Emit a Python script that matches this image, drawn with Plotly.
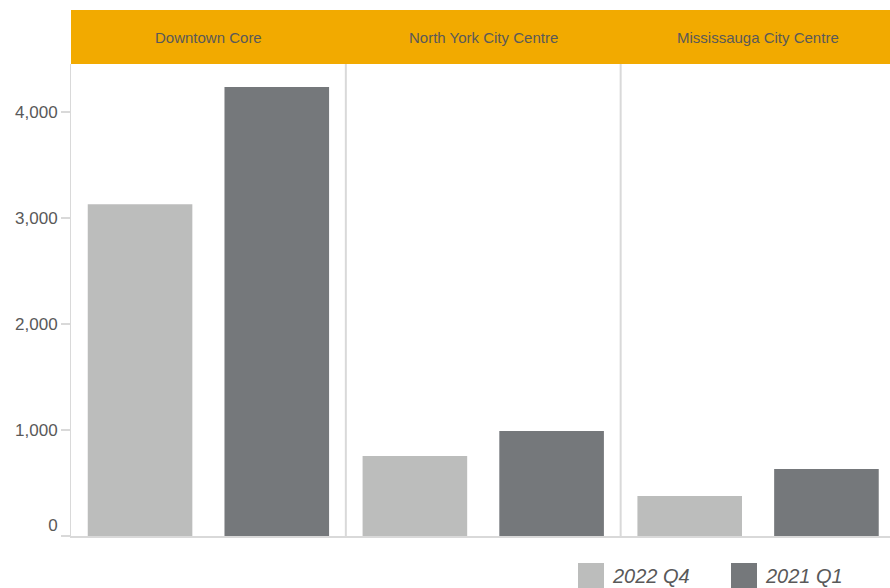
import plotly.graph_objects as go

categories = ["Downtown Core", "North York City Centre", "Mississauga City Centre"]
series_names = ["2022 Q4", "2021 Q1"]
values_2022_q4 = [3130, 755, 377]
values_2021_q1 = [4236, 991, 632]
tick_values = [0, 1000, 2000, 3000, 4000]
tick_labels = ["0<br> ", "1,000", "2,000", "3,000", "4,000"]

colors = ["#BCBDBC", "#75787B"]
text_color = "#595959"
line_color = "#D9D9D9"
FONT = "Liberation Sans, Arial, sans-serif"

fig = go.Figure()
for name, vals, col in zip(series_names, [values_2022_q4, values_2021_q1], colors):
    fig.add_trace(go.Bar(x=categories, y=vals, name=name, marker=dict(color=col, line=dict(width=0)),
                         showlegend=False))

L, T, B = 71, 64, 52
W, H = 890, 588
pw = W - L
ph = H - T - B

def px_x(px):
    return (px - L) / pw

def px_y(py):
    return (H - B - py) / ph

shapes = []
annotations = []
# header band
shapes.append(dict(type="rect", xref="paper", yref="paper", x0=0, x1=1, y0=1, y1=px_y(10),
                   fillcolor="#F2AA00", line=dict(width=0), layer="below"))
for c in categories:
    annotations.append(dict(x=c, xref="x", y=px_y(37), yref="paper", text=c, showarrow=False,
                            font=dict(family=FONT, size=15, color=text_color), xanchor="center", yanchor="middle"))
# panel dividers
for i in range(1, len(categories)):
    shapes.append(dict(type="line", xref="x", yref="paper", x0=i - 0.5, x1=i - 0.5, y0=0, y1=1,
                       line=dict(color=line_color, width=2)))
# legend (manual, large squares)
leg_sq = [578, 731]
for name, col, sx in zip(series_names, colors, leg_sq):
    shapes.append(dict(type="rect", xref="paper", yref="paper", x0=px_x(sx), x1=px_x(sx + 26),
                       y0=px_y(588), y1=px_y(563), fillcolor=col, line=dict(width=0)))
    annotations.append(dict(x=px_x(sx + 32), xref="paper", y=px_y(576), yref="paper", text=name,
                            showarrow=False, xanchor="left", yanchor="middle",
                            font=dict(family=FONT, size=20, color=text_color, style="italic")))

fig.update_layout(
    width=W, height=H,
    margin=dict(l=L, r=0, t=T, b=B),
    paper_bgcolor="white", plot_bgcolor="white",
    barmode="group", bargap=0.005, bargroupgap=0.235,
    showlegend=False,
    shapes=shapes, annotations=annotations,
    font=dict(family=FONT, color=text_color),
)
fig.update_xaxes(showticklabels=False, ticks="", showgrid=False, showline=True, linecolor=line_color,
                 linewidth=2, zeroline=False, range=[-0.5, 2.48])
fig.update_yaxes(range=[0, 4453], tickvals=tick_values, ticktext=tick_labels, showgrid=False,
                 zeroline=False, showline=True, linecolor=line_color, linewidth=1,
                 ticks="outside", ticklen=9, tickcolor=line_color, tickwidth=2,
                 tickfont=dict(family=FONT, size=17, color=text_color))

fig.write_html("out.html")
